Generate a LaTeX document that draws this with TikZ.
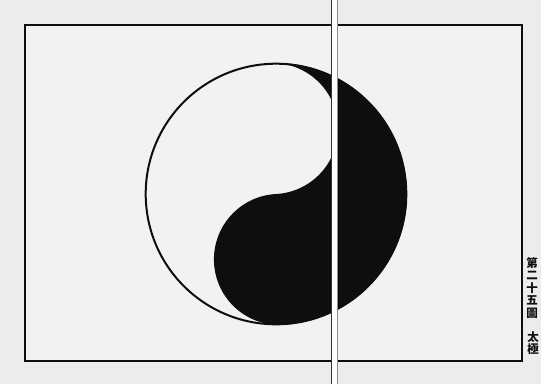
\documentclass[tikz,border=0pt]{standalone}
\usepackage{fontspec}
\newfontfamily\cjk{Noto Sans CJK TC}
\definecolor{paper}{RGB}{236,236,236}
\definecolor{paperin}{RGB}{242,242,242}
\definecolor{ink}{RGB}{14,14,14}
\tikzset{
  framestyle/.style={draw=ink, line width=2pt},
  cjklabel/.style={font=\cjk\bfseries\fontsize{11.5}{12.6}\selectfont, align=center, inner sep=0pt, text=ink, anchor=north}
}
\begin{document}
\begin{tikzpicture}[x=1pt,y=-1pt]
\useasboundingbox (0,0) rectangle (541,384);
\fill[paper] (0,0) rectangle (541,384);
\fill[paperin] (25,25) rectangle (522,361);
\draw[framestyle] (25,25) rectangle (522,361);
% taiji
\begin{scope}[shift={(276,194)}, yscale=-1, rotate=-3]
  \fill[ink] (0,131) arc[start angle=90, end angle=-90, radius=131]
        arc[start angle=-90, end angle=-270, radius=65.5]
        arc[start angle=-90, end angle=90, radius=65.5] -- cycle;
  \draw[ink, line width=2pt] (0,0) circle[radius=130.3];
\end{scope}
% caption
\node[cjklabel] (cap1) at (532,257) {第\\二\\十\\五\\圖};
\node[cjklabel] (cap2) at (533,331) {太\\極};
% gutter
\fill[white] (331,0) rectangle (337,384);
\draw[ink!85, line width=1.6pt] (331.5,0) -- (331.5,384);
\draw[black!45, line width=1pt] (337,0) -- (337,384);
\end{tikzpicture}
\end{document}
